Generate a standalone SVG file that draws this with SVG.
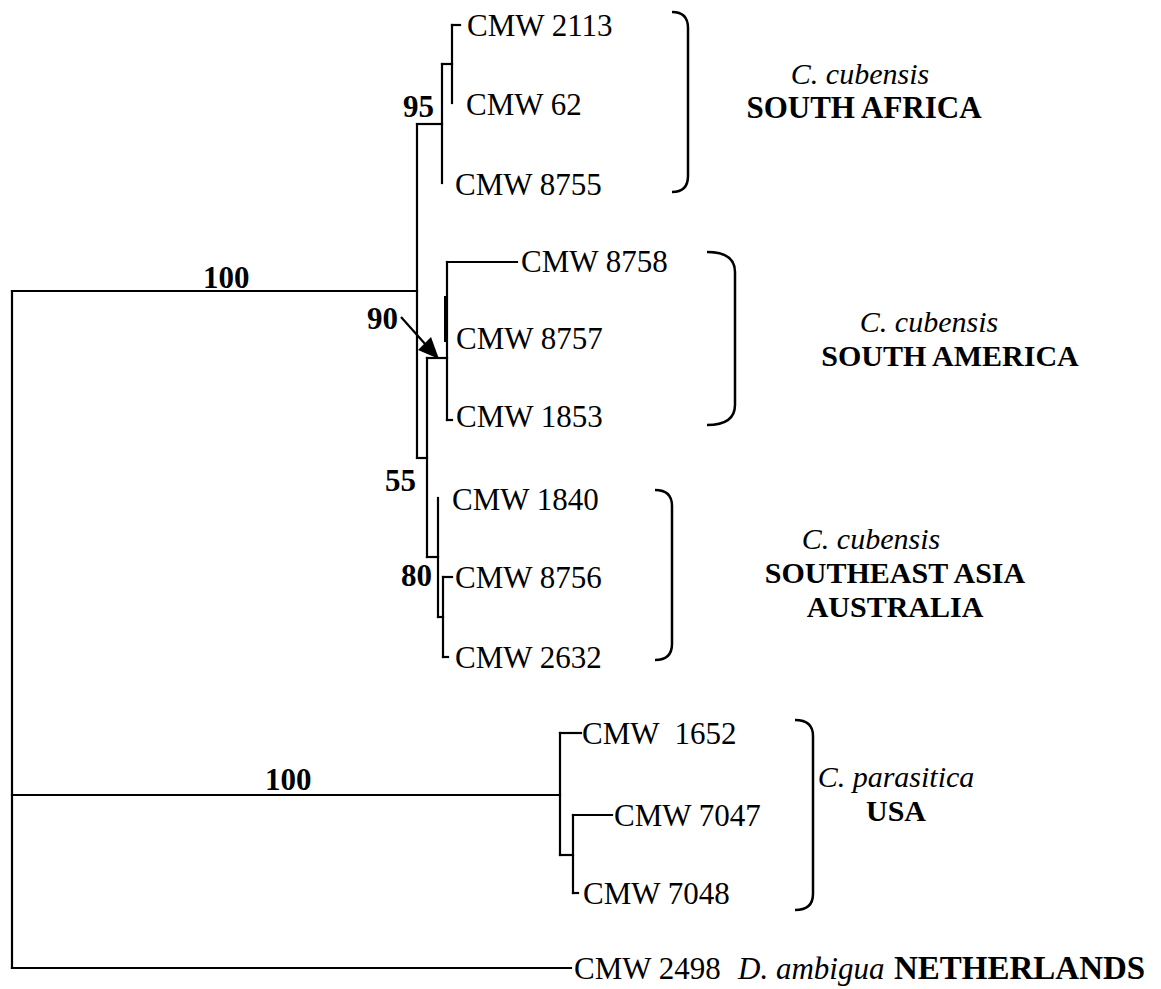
<svg xmlns="http://www.w3.org/2000/svg" width="1161" height="989" viewBox="0 0 1161 989">
<style>
.t{font-family:"Liberation Serif","Times New Roman",serif;font-size:31px;fill:#000}
.c{font-size:30px}
.b{font-weight:bold}
.i{font-style:italic}
.br{fill:none;stroke:#000;stroke-width:2.5}
.e{fill:none;stroke:#000;stroke-width:2.2;stroke-linecap:square}
</style>
<rect width="1161" height="989" fill="#fff"/>
<g id="connectors" class="e">
  <path d="M12,291 V968"/>
  <path d="M12,291 H417"/>
  <path d="M12,795 H560"/>
  <path d="M12,968 H571"/>
  <path d="M417,124 V458"/>
  <path d="M417,124 H442"/>
  <path d="M442,64 V183"/>
  <path d="M442,64 H452"/>
  <path d="M452,25 V103"/>
  <path d="M452,25 H460"/>
  <path d="M417,458 H427"/>
  <path d="M427,358 V557"/>
  <path d="M427,358 H447"/>
  <path d="M447,262 V420"/>
  <path d="M447,262 H517"/>
  <path d="M447,420 H452"/>
  <path d="M446,298 V340" stroke-width="4"/>
  <path d="M427,557 H438"/>
  <path d="M438,498 V617"/>
  <path d="M438,617 H443"/>
  <path d="M443,577 V657"/>
  <path d="M443,577 H452"/>
  <path d="M443,657 H448"/>
  <path d="M560,733 V855"/>
  <path d="M560,733 H581"/>
  <path d="M560,855 H573"/>
  <path d="M573,815 V893"/>
  <path d="M573,815 H612"/>
  <path d="M573,893 H578"/>
  <path d="M401,317 L426,345" stroke-linecap="butt"/>
  <polygon points="439,359 418,350 431,337" fill="#000" stroke="none"/>
</g>
<g id="support-labels" class="t b">
  <text x="203" y="288">100</text>
  <text x="265" y="790">100</text>
  <text x="403" y="117">95</text>
  <text x="367" y="329">90</text>
  <text x="385" y="491">55</text>
  <text x="401" y="586">80</text>
</g>
<g id="leaf-CMW2113"><text class="t" x="467" y="36">CMW 2113</text></g>
<g id="leaf-CMW62"><text class="t" x="466" y="115">CMW 62</text></g>
<g id="leaf-CMW8755"><text class="t" x="455" y="195">CMW 8755</text></g>
<g id="leaf-CMW8758"><text class="t" x="521" y="272">CMW 8758</text></g>
<g id="leaf-CMW8757"><text class="t" x="456" y="349">CMW 8757</text></g>
<g id="leaf-CMW1853"><text class="t" x="456" y="427">CMW 1853</text></g>
<g id="leaf-CMW1840"><text class="t" x="452" y="510">CMW 1840</text></g>
<g id="leaf-CMW8756"><text class="t" x="455" y="588">CMW 8756</text></g>
<g id="leaf-CMW2632"><text class="t" x="455" y="668">CMW 2632</text></g>
<g id="leaf-CMW1652"><text class="t" x="582" y="744" style="white-space:pre">CMW  1652</text></g>
<g id="leaf-CMW7047"><text class="t" x="614" y="826">CMW 7047</text></g>
<g id="leaf-CMW7048"><text class="t" x="583" y="904">CMW 7048</text></g>
<g id="leaf-CMW2498">
  <text class="t" x="574" y="979">CMW 2498</text>
  <text class="t i" x="738" y="979">D. ambigua</text>
  <text class="t b" x="894" y="979" style="font-size:33px">NETHERLANDS</text>
</g>
<g id="clade-south-africa">
  <path class="br" d="M672,12 Q688,12 688,28 V176 Q688,192 672,192"/>
  <text class="t c i" x="860" y="84" text-anchor="middle">C. cubensis</text>
  <text class="t b" x="864" y="118" text-anchor="middle">SOUTH AFRICA</text>
</g>
<g id="clade-south-america">
  <path class="br" d="M707,252 Q735,252 735,272 V405 Q735,425 707,425"/>
  <text class="t c i" x="929" y="332" text-anchor="middle">C. cubensis</text>
  <text class="t c b" x="950" y="366" text-anchor="middle">SOUTH AMERICA</text>
</g>
<g id="clade-southeast-asia">
  <path class="br" d="M655,490 Q672,490 672,506 V644 Q672,660 655,660"/>
  <text class="t c i" x="871" y="549" text-anchor="middle">C. cubensis</text>
  <text class="t c b" x="895" y="583" text-anchor="middle">SOUTHEAST ASIA</text>
  <text class="t c b" x="895" y="617" text-anchor="middle">AUSTRALIA</text>
</g>
<g id="clade-usa">
  <path class="br" d="M795,720 Q813,720 813,736 V894 Q813,910 795,910"/>
  <text class="t c i" x="896" y="787" text-anchor="middle">C. parasitica</text>
  <text class="t c b" x="896" y="821" text-anchor="middle">USA</text>
</g>
</svg>
